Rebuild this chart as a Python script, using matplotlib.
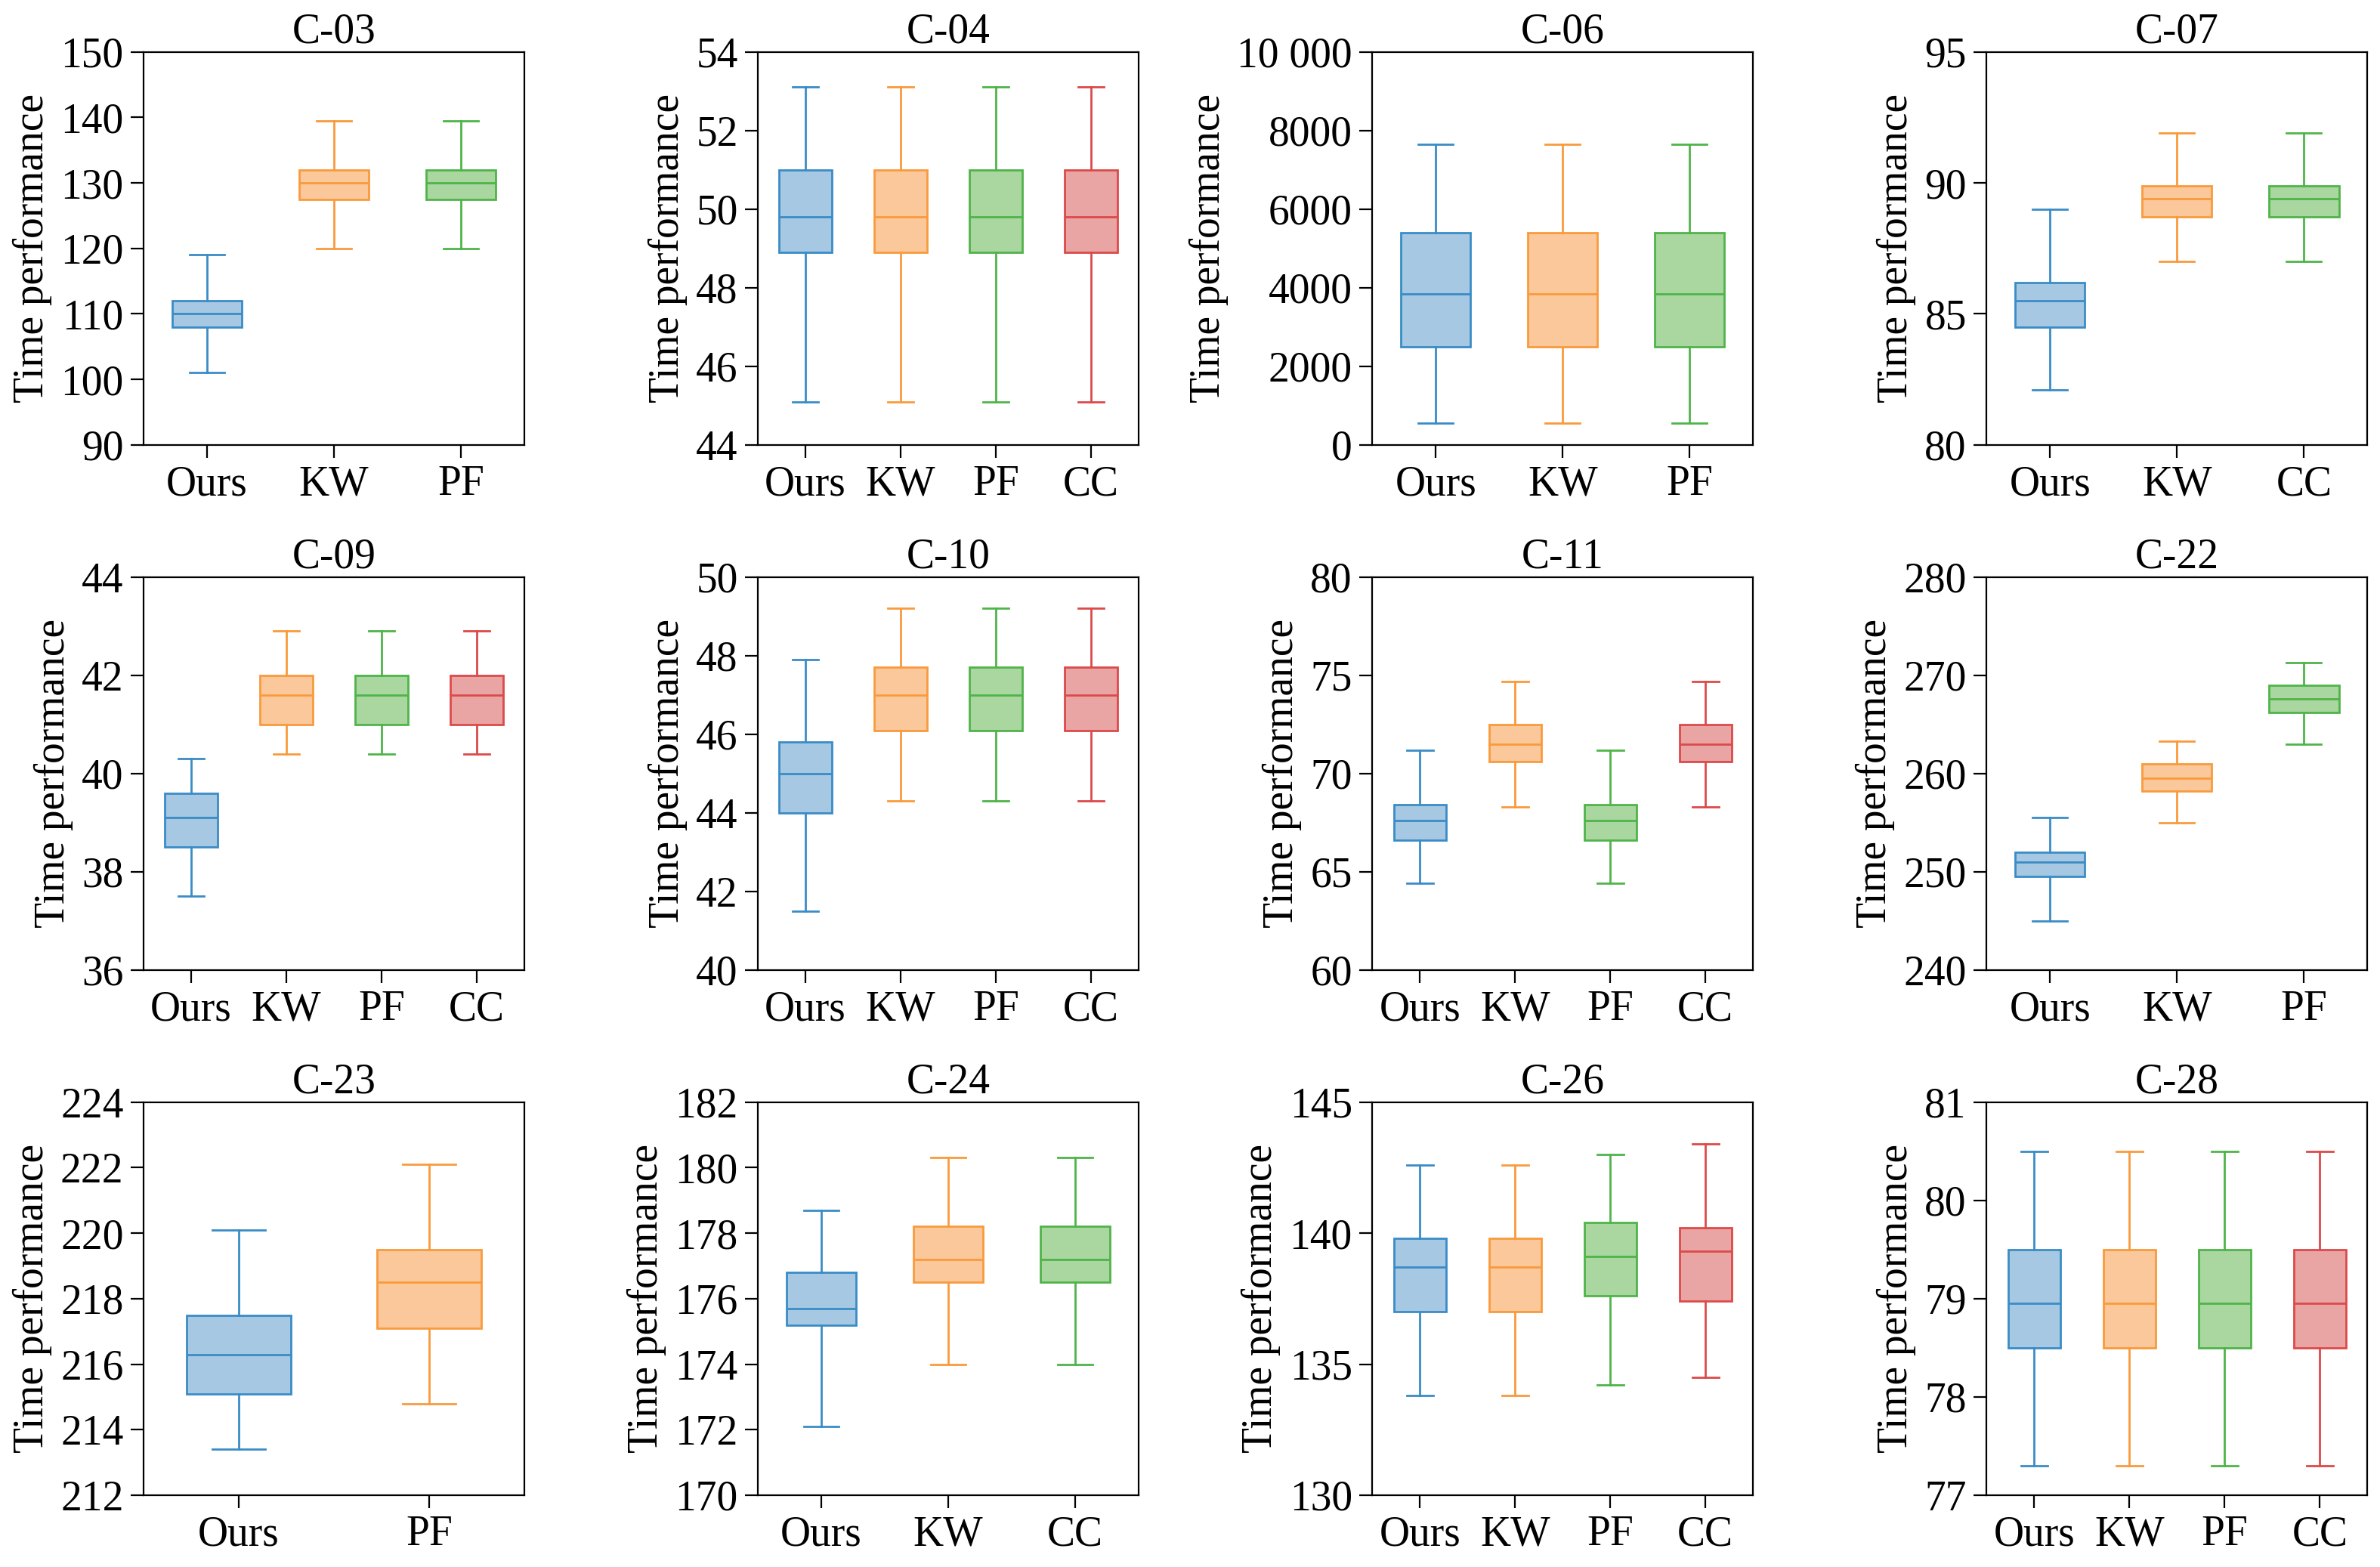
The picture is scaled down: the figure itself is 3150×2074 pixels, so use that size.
import matplotlib
matplotlib.use("Agg")
import matplotlib.pyplot as plt
from matplotlib.ticker import MultipleLocator, FuncFormatter

plt.rcParams["font.family"] = ["Liberation Serif", "DejaVu Serif"]
plt.rcParams["font.size"] = 20

COLORS = ["#3a8cc6", "#f99a3c", "#4fb44a", "#dc4a4b"]
FACES = ["#a6c8e2", "#fbc89b", "#aad6a0", "#e8a5a3"]

# (whislo, q1, med, q3, whishi)
titles = ["C-03", "C-04", "C-06", "C-07", "C-09", "C-10", "C-11", "C-22",
          "C-23", "C-24", "C-26", "C-28"]
labels = [
    ["Ours", "KW", "PF"], ["Ours", "KW", "PF", "CC"], ["Ours", "KW", "PF"],
    ["Ours", "KW", "CC"], ["Ours", "KW", "PF", "CC"], ["Ours", "KW", "PF", "CC"],
    ["Ours", "KW", "PF", "CC"], ["Ours", "KW", "PF"], ["Ours", "PF"],
    ["Ours", "KW", "CC"], ["Ours", "KW", "PF", "CC"], ["Ours", "KW", "PF", "CC"],
]
c03 = [(101, 108, 110, 112, 119), (120, 127.5, 130, 132, 139.5), (120, 127.5, 130, 132, 139.5)]
c04 = [(45.1, 48.9, 49.8, 51.0, 53.1)] * 4
c06 = [(550, 2500, 3850, 5400, 7650)] * 3
c07 = [(82.1, 84.5, 85.5, 86.2, 89.0), (87.0, 88.7, 89.4, 89.9, 91.9), (87.0, 88.7, 89.4, 89.9, 91.9)]
c09 = [(37.5, 38.5, 39.1, 39.6, 40.3)] + [(40.4, 41.0, 41.6, 42.0, 42.9)] * 3
c10 = [(41.5, 44.0, 45.0, 45.8, 47.9)] + [(44.3, 46.1, 47.0, 47.7, 49.2)] * 3
c11 = [(64.4, 66.6, 67.6, 68.4, 71.2), (68.3, 70.6, 71.5, 72.5, 74.7),
       (64.4, 66.6, 67.6, 68.4, 71.2), (68.3, 70.6, 71.5, 72.5, 74.7)]
c22 = [(245, 249.5, 251, 252, 255.5), (255, 258.2, 259.5, 261, 263.3), (263, 266.2, 267.6, 269, 271.3)]
c23 = [(213.4, 215.1, 216.3, 217.5, 220.1), (214.8, 217.1, 218.5, 219.5, 222.1)]
c24 = [(172.1, 175.2, 175.7, 176.8, 178.7), (174, 176.5, 177.2, 178.2, 180.3), (174, 176.5, 177.2, 178.2, 180.3)]
c26 = [(133.8, 137.0, 138.7, 139.8, 142.6), (133.8, 137.0, 138.7, 139.8, 142.6),
       (134.2, 137.6, 139.1, 140.4, 143.0), (134.5, 137.4, 139.3, 140.2, 143.4)]
c28 = [(77.3, 78.5, 78.95, 79.5, 80.5)] * 4
data = [c03, c04, c06, c07, c09, c10, c11, c22, c23, c24, c26, c28]
ylims = [(90, 150, 10), (44, 54, 2), (0, 10000, 2000), (80, 95, 5), (36, 44, 2), (40, 50, 2),
         (60, 80, 5), (240, 280, 10), (212, 224, 2), (170, 182, 2), (130, 145, 5), (77, 81, 1)]

fig, axes = plt.subplots(3, 4, figsize=(15.75, 10.37), dpi=200)
for ax, title, labs, boxes, (lo, hi, step) in zip(axes.flat, titles, labels, data, ylims):
    stats = [dict(whislo=b[0], q1=b[1], med=b[2], q3=b[3], whishi=b[4], fliers=[], label=l)
             for b, l in zip(boxes, labs)]
    res = ax.bxp(stats, patch_artist=True, showfliers=False, widths=0.55)
    for i in range(len(stats)):
        c = COLORS[i]
        res["boxes"][i].set_facecolor(FACES[i])
        res["boxes"][i].set_edgecolor(c)
        res["medians"][i].set_color(c)
        for k in (2 * i, 2 * i + 1):
            res["whiskers"][k].set_color(c)
            res["caps"][k].set_color(c)
    ax.set_ylim(lo, hi)
    ax.yaxis.set_major_locator(MultipleLocator(step))
    if title == "C-06":
        ax.yaxis.set_major_formatter(FuncFormatter(
            lambda v, p: "10 000" if v >= 10000 else f"{v:.0f}"))
    ax.set_title(title, fontsize=20, pad=3)
    ax.set_ylabel("Time performance")
    ax.tick_params(direction="out", length=6, labelsize=20)

plt.tight_layout(pad=0.3, h_pad=0.8, w_pad=1.2)
plt.savefig("out.png", dpi=200)
